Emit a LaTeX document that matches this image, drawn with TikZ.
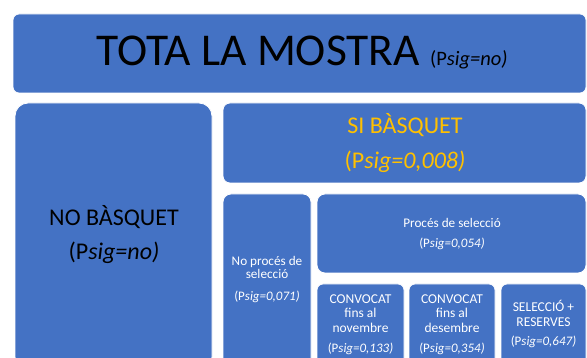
\documentclass[tikz,border=0pt]{standalone}
\usepackage{fontspec}
\setmainfont{Carlito}
\definecolor{boxblue}{HTML}{4472C4}
\definecolor{gold}{HTML}{FFC000}
\begin{document}
\begin{tikzpicture}[x=1pt,y=-1pt,
  bx/.style={fill=boxblue, draw=white, line width=0.8pt, anchor=north west, inner sep=0pt, outer sep=0pt},
  txt/.style={align=center, inner sep=0pt, anchor=center},
  small/.style={txt, text=white, font=\fontsize{13.2}{13.5}\selectfont},
  smallp/.style={txt, text=white, font=\fontsize{13}{14}\selectfont},
  conv/.style={txt, text=white, font=\fontsize{13.5}{14.7}\selectfont},
  convp/.style={txt, text=white, font=\fontsize{13}{14}\selectfont},
  big/.style={txt, font=\fontsize{24}{28}\selectfont}]
\useasboundingbox (0,0) rectangle (587,358);
\clip (0,0) rectangle (587,358);
\fill[white] (0,0) rectangle (587,358);
% boxes
\node[bx, rounded corners=6pt, minimum width=573pt, minimum height=79pt] (top) at (13,14) {};
\node[bx, rounded corners=13pt, minimum width=197pt, minimum height=267pt] (nob) at (15,103) {};
\node[bx, rounded corners=7pt, minimum width=363pt, minimum height=80pt] (si) at (223,103) {};
\node[bx, rounded corners=8pt, minimum width=88pt, minimum height=176pt] (nop) at (223,194) {};
\node[bx, rounded corners=8pt, minimum width=269pt, minimum height=79pt] (proc) at (317,194) {};
\node[bx, rounded corners=6pt, minimum width=87pt, minimum height=86pt] (c1) at (317,284) {};
\node[bx, rounded corners=6pt, minimum width=86pt, minimum height=86pt] (c2) at (409,284) {};
\node[bx, rounded corners=6pt, minimum width=85pt, minimum height=86pt] (c3) at (501,284) {};
% texts
\node[txt, anchor=base] (ttop) at (302,66) {\fontsize{45.5}{50}\selectfont TOTA LA MOSTRA \fontsize{20.5}{24}\selectfont (P\textit{sig=no)}};
\node[big] (tnob1) at (114,217) {NO BÀSQUET};
\node[big] (tnob2) at (114,253) {(P\textit{sig=no)}};
\node[big, text=gold] (tsi1) at (405,125) {SI BÀSQUET};
\node[big, text=gold] (tsi2) at (405,162) {(P\textit{sig=0,008)}};
\node[small] (tnop1) at (267,267.5) {No procés de\\selecció};
\node[smallp] (tnop2) at (267,297) {(P\textit{sig=0,071)}};
\node[small] (tproc1) at (452,223) {Procés de selecció};
\node[smallp] (tproc2) at (452,244) {(P\textit{sig=0,054)}};
\node[conv] (tc11) at (360.5,313.5) {CONVOCAT\\fins al\\novembre};
\node[convp] (tc12) at (360.5,349) {(P\textit{sig=0,133)}};
\node[conv] (tc21) at (452,313.5) {CONVOCAT\\fins al\\desembre};
\node[convp] (tc22) at (452,349) {(P\textit{sig=0,354)}};
\node[conv] (tc31) at (543.5,313.5) {SELECCIÓ +\\RESERVES};
\node[convp] (tc32) at (543.5,342) {(P\textit{sig=0,647)}};
\end{tikzpicture}
\end{document}
